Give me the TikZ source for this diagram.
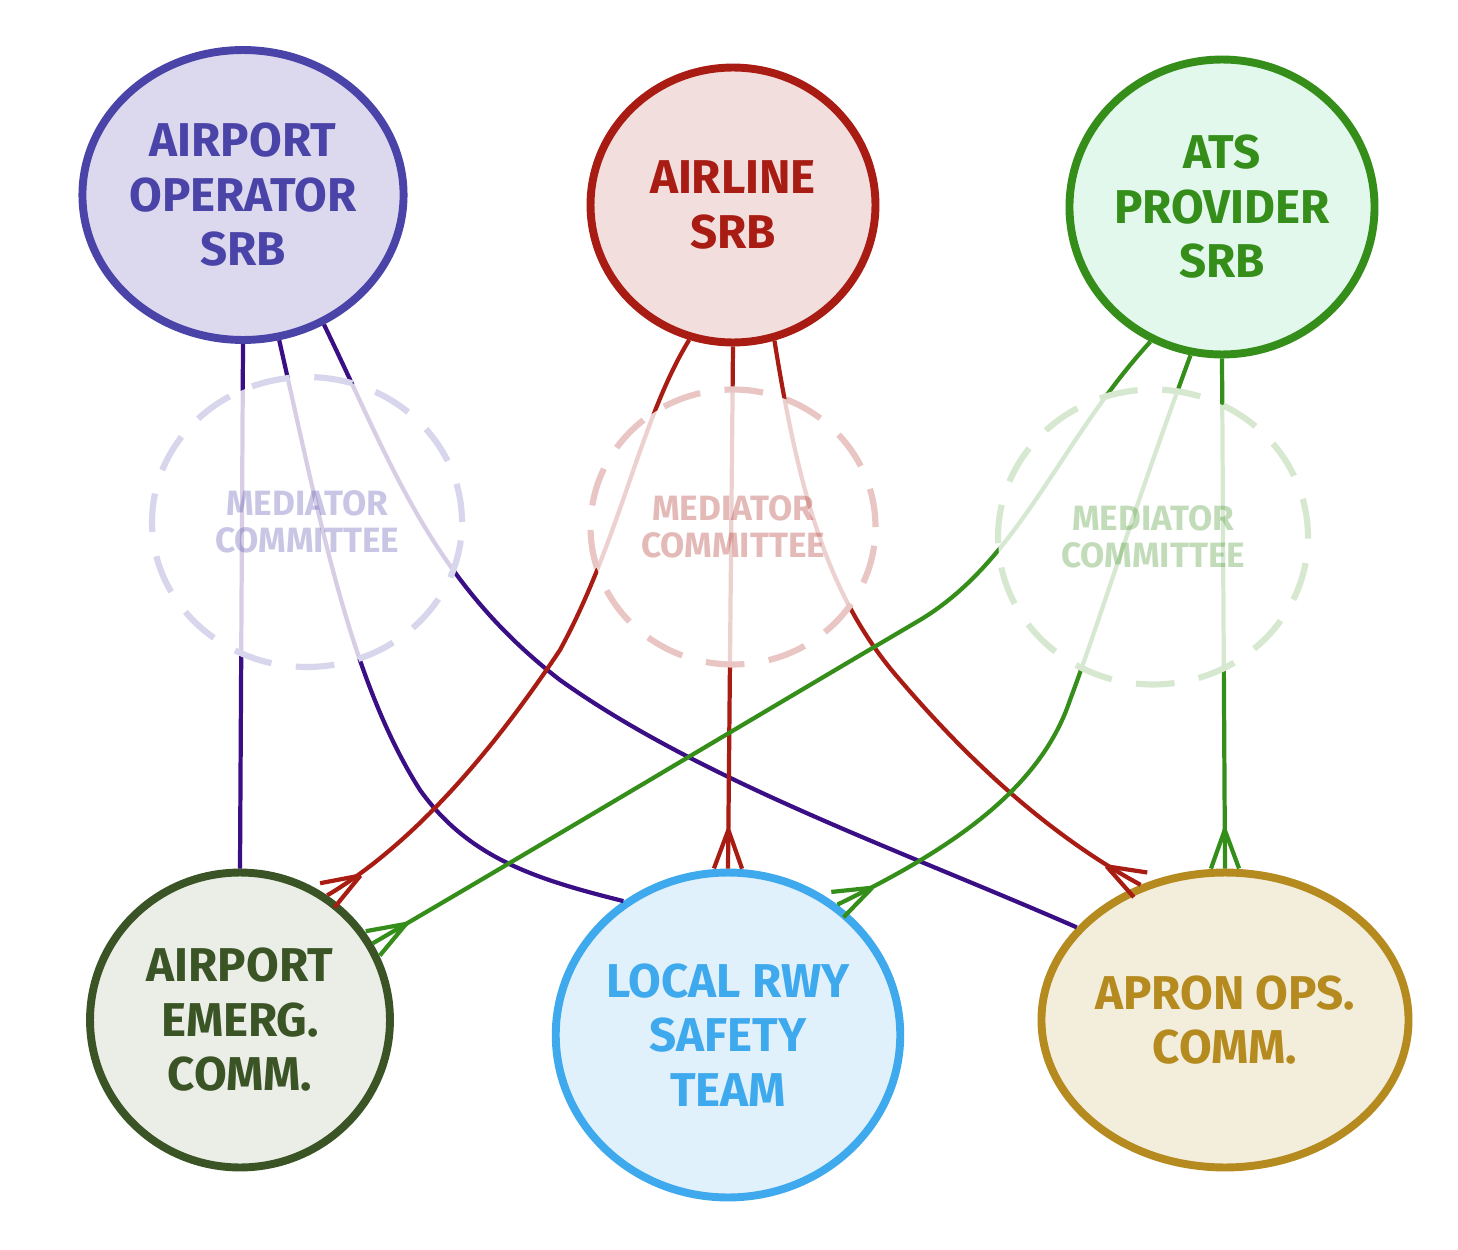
\documentclass[tikz,border=0pt]{standalone}
\usepackage{fontspec}
\setmainfont{Fira Sans}
\usetikzlibrary{shapes.geometric,decorations.markings}
\definecolor{opS}{HTML}{4B44A8}\definecolor{opF}{HTML}{DCD9EE}
\definecolor{alS}{HTML}{A81C14}\definecolor{alF}{HTML}{F2DEDC}
\definecolor{atS}{HTML}{358E1A}\definecolor{atF}{HTML}{E3F8EC}
\definecolor{emS}{HTML}{3B5426}\definecolor{emF}{HTML}{EBEDE7}
\definecolor{rwS}{HTML}{3FA9EE}\definecolor{rwF}{HTML}{E1F1FC}
\definecolor{apS}{HTML}{B58A1F}\definecolor{apF}{HTML}{F3EDDC}
\definecolor{purp}{HTML}{3A0E84}
\tikzset{
 blob/.style={ellipse,line width=4.5pt,align=center,font=\fontsize{27}{31}\selectfont\bfseries,inner sep=0pt},
 med/.style={ellipse,line width=3.5pt,dash pattern=on 22pt off 14pt,fill=white,fill opacity=0.8,text opacity=0.3,align=center,font=\fontsize{20}{21}\selectfont\bfseries,inner sep=0pt},
 conn/.style={line width=2.4pt},
 crow/.style={postaction={decorate},decoration={markings,mark=at position 1 with {\draw[line width=2.4pt] (-22pt,0)--(0,8pt) (-22pt,0)--(0,-8pt);}}}
}
\begin{document}
\begin{tikzpicture}[x=0.02cm,y=-0.02cm]
\fill[white] (0,0) rectangle (1458,1250);
\useasboundingbox (0,0) rectangle (1458,1250);
\node[blob,draw=opS,fill=opF,text=opS,minimum width=6.2cm,minimum height=5.8cm] (op) at (243,195) {AIRPORT\\OPERATOR\\SRB};
\node[blob,draw=alS,fill=alF,text=alS,minimum width=5.7cm,minimum height=5.5cm] (al) at (733,205) {AIRLINE\\SRB};
\node[blob,draw=atS,fill=atF,text=atS,minimum width=6.1cm,minimum height=5.9cm] (at) at (1222,207) {ATS\\PROVIDER\\SRB};
\node[blob,draw=emS,fill=emF,text=emS,minimum width=6.0cm,minimum height=5.9cm] (em) at (240,1020) {AIRPORT\\EMERG.\\COMM.};
\node[blob,draw=rwS,fill=rwF,text=rwS,minimum width=6.2cm,minimum height=6.5cm] (rw) at (728,1035) {LOCAL RWY\\SAFETY\\TEAM};
\node[blob,draw=apS,fill=apF,text=apS,minimum width=6.9cm,minimum height=5.9cm] (ap) at (1225,1020) {APRON OPS.\\COMM.};
% connectors
\draw[conn,purp] (op.-90) -- (em.90);
\draw[conn,purp] (op.-76) .. controls (320,520) and (350,680) .. (420,790) .. controls (470,860) and (540,880) .. (rw.128);
\draw[conn,purp] (op.-58) .. controls (390,460) and (430,580) .. (560,680) .. controls (700,780) and (900,850) .. (ap.148);
\draw[conn,alS,crow] (al.-108) .. controls (640,420) and (620,540) .. (560,650) .. controls (500,740) and (420,840) .. (em.55);
\draw[conn,alS,crow] (al.-90) -- (rw.90);
\draw[conn,alS,crow] (al.-73) .. controls (800,500) and (830,600) .. (900,680) .. controls (960,750) and (1040,830) .. (ap.122);
\draw[conn,atS,crow] (at.-118) .. controls (1060,440) and (1020,560) .. (920,620) .. controls (750,720) and (550,840) .. (em.30);
\draw[conn,atS,crow] (at.-102) .. controls (1130,520) and (1100,620) .. (1070,700) .. controls (1040,790) and (950,850) .. (rw.50);
\draw[conn,atS,crow] (at.-90) -- (ap.90);
% mediators
\node[med,draw=opS!22,text=opS,minimum width=6.2cm,minimum height=5.8cm] (m1) at (307,522) {MEDIATOR\\COMMITTEE};
\node[med,draw=alS!25,text=alS,minimum width=5.7cm,minimum height=5.5cm] (m2) at (733,527) {MEDIATOR\\COMMITTEE};
\node[med,draw=atS!20,text=atS,minimum width=6.2cm,minimum height=5.9cm] (m3) at (1153,537) {MEDIATOR\\COMMITTEE};
\end{tikzpicture}
\end{document}
